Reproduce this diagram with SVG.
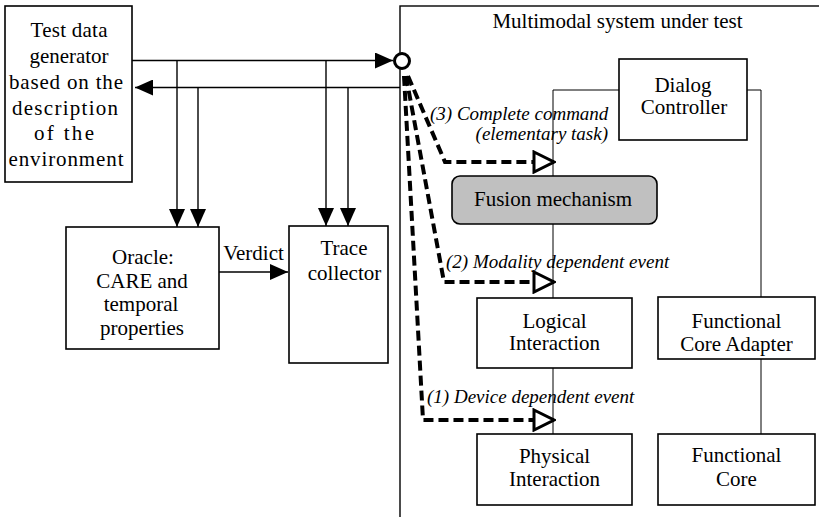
<svg xmlns="http://www.w3.org/2000/svg" width="819" height="517" viewBox="0 0 819 517">
<defs>
<marker id="arr" viewBox="0 0 18 16" refX="18" refY="8" markerWidth="18" markerHeight="16" markerUnits="userSpaceOnUse" orient="auto">
<path d="M0,0 L18,8 L0,16 z" fill="#000" stroke="none"/>
</marker>
<marker id="open" viewBox="0 0 24 24" refX="22" refY="12" markerWidth="24" markerHeight="24" markerUnits="userSpaceOnUse" orient="auto">
<path d="M2,2 L22,12 L2,22 z" fill="#fff" stroke="#000" stroke-width="3" stroke-dasharray="none"/>
</marker>
</defs>
<rect width="819" height="517" fill="#fff"/>

<g id="system">
<rect x="400" y="6" width="440" height="530" fill="none" stroke="#000" stroke-width="1.4"/>
<text font-family="Liberation Serif" font-size="21" text-anchor="middle" x="617.5" y="28">Multimodal system under test</text>
</g>

<g id="connectors">
<g fill="none" stroke="#000" stroke-width="1.4">
<line x1="132" y1="60.5" x2="393" y2="60.5" marker-end="url(#arr)"/>
<line x1="400" y1="87.5" x2="135" y2="87.5" marker-end="url(#arr)"/>
<line x1="177" y1="60.5" x2="177" y2="227" marker-end="url(#arr)"/>
<line x1="198" y1="87.5" x2="198" y2="227" marker-end="url(#arr)"/>
<line x1="326" y1="60.5" x2="326" y2="226" marker-end="url(#arr)"/>
<line x1="348" y1="87.5" x2="348" y2="226" marker-end="url(#arr)"/>
<line x1="219" y1="272" x2="288" y2="272" marker-end="url(#arr)"/>
</g>
<circle cx="402" cy="61" r="7.5" fill="#fff" stroke="#000" stroke-width="3"/>
<g fill="none" stroke="#000" stroke-width="1">
<path d="M553,176 V90 H619"/>
<path d="M747,90 H761 V297"/>
<path d="M761,359 V434"/>
<path d="M553,224 V298"/>
<path d="M553,368 V434"/>
</g>
<g fill="none" stroke="#000" stroke-width="4" stroke-dasharray="10 5" stroke-linejoin="miter">
<path d="M408,76 L445,162 L554,162" marker-end="url(#open)"/>
<path d="M406,76 L444,282 L554,282" marker-end="url(#open)"/>
<path d="M404,76 L423,420 L554,420" marker-end="url(#open)"/>
</g>
</g>

<g fill="#fff" stroke="#000" stroke-width="1.6">
<rect id="generator-box" x="5" y="6" width="127" height="176"/>
<rect id="oracle-box" x="66" y="227" width="153" height="122"/>
<rect id="trace-box" x="289" y="226" width="99" height="137"/>
<rect id="dialog-box" x="619" y="59" width="128" height="81"/>
<rect id="fusion-box" x="452" y="176" width="205" height="48" rx="8" ry="8" fill="#c0c0c0"/>
<rect id="logical-box" x="477" y="298" width="155" height="70"/>
<rect id="physical-box" x="477" y="434" width="155" height="71"/>
<rect id="fca-box" x="658" y="297" width="157" height="62"/>
<rect id="fc-box" x="658" y="434" width="157" height="71"/>
</g>

<g font-size="21" text-anchor="middle" fill="#000">
<g id="generator">
<text font-family="Liberation Serif" x="69" y="37" textLength="77" lengthAdjust="spacing">Test data</text>
<text font-family="Liberation Serif" x="69" y="63" textLength="79" lengthAdjust="spacing">generator</text>
<text font-family="Liberation Serif" x="66" y="89" textLength="114" lengthAdjust="spacing">based on the</text>
<text font-family="Liberation Serif" x="65" y="115" textLength="106" lengthAdjust="spacing">description</text>
<text font-family="Liberation Serif" x="64" y="140" textLength="60" lengthAdjust="spacing">of the</text>
<text font-family="Liberation Serif" x="66" y="166" textLength="115" lengthAdjust="spacing">environment</text>
</g>
<g id="oracle">
<text font-family="Liberation Serif" x="143" y="264">Oracle:</text>
<text font-family="Liberation Serif" x="142" y="288">CARE and</text>
<text font-family="Liberation Serif" x="141" y="311">temporal</text>
<text font-family="Liberation Serif" x="142" y="335">properties</text>
</g>
<text font-family="Liberation Serif" x="253.5" y="260">Verdict</text>
<g id="trace">
<text font-family="Liberation Serif" x="344" y="255">Trace</text>
<text font-family="Liberation Serif" x="344.5" y="280">collector</text>
</g>
<g id="dialog">
<text font-family="Liberation Serif" x="683" y="92">Dialog</text>
<text font-family="Liberation Serif" x="684" y="114">Controller</text>
</g>
<g id="fusion">
<text font-family="Liberation Serif" x="553" y="206">Fusion mechanism</text>
</g>
<g id="logical">
<text font-family="Liberation Serif" x="554.5" y="328">Logical</text>
<text font-family="Liberation Serif" x="554.5" y="350">Interaction</text>
</g>
<g id="physical">
<text font-family="Liberation Serif" x="554.5" y="463">Physical</text>
<text font-family="Liberation Serif" x="554.5" y="486">Interaction</text>
</g>
<g id="fca">
<text font-family="Liberation Serif" x="736.5" y="328">Functional</text>
<text font-family="Liberation Serif" x="736.5" y="351">Core Adapter</text>
</g>
<g id="fc">
<text font-family="Liberation Serif" x="736.5" y="462">Functional</text>
<text font-family="Liberation Serif" x="736.5" y="486">Core</text>
</g>
</g>

<g id="labels" font-size="19" font-style="italic" fill="#000">
<text font-family="Liberation Serif" x="430" y="120">(3) Complete command</text>
<text font-family="Liberation Serif" x="608" y="140" text-anchor="end">(elementary task)</text>
<text font-family="Liberation Serif" x="446" y="268">(2) Modality dependent event</text>
<text font-family="Liberation Serif" x="427" y="403">(1) Device dependent event</text>
</g>
</svg>
